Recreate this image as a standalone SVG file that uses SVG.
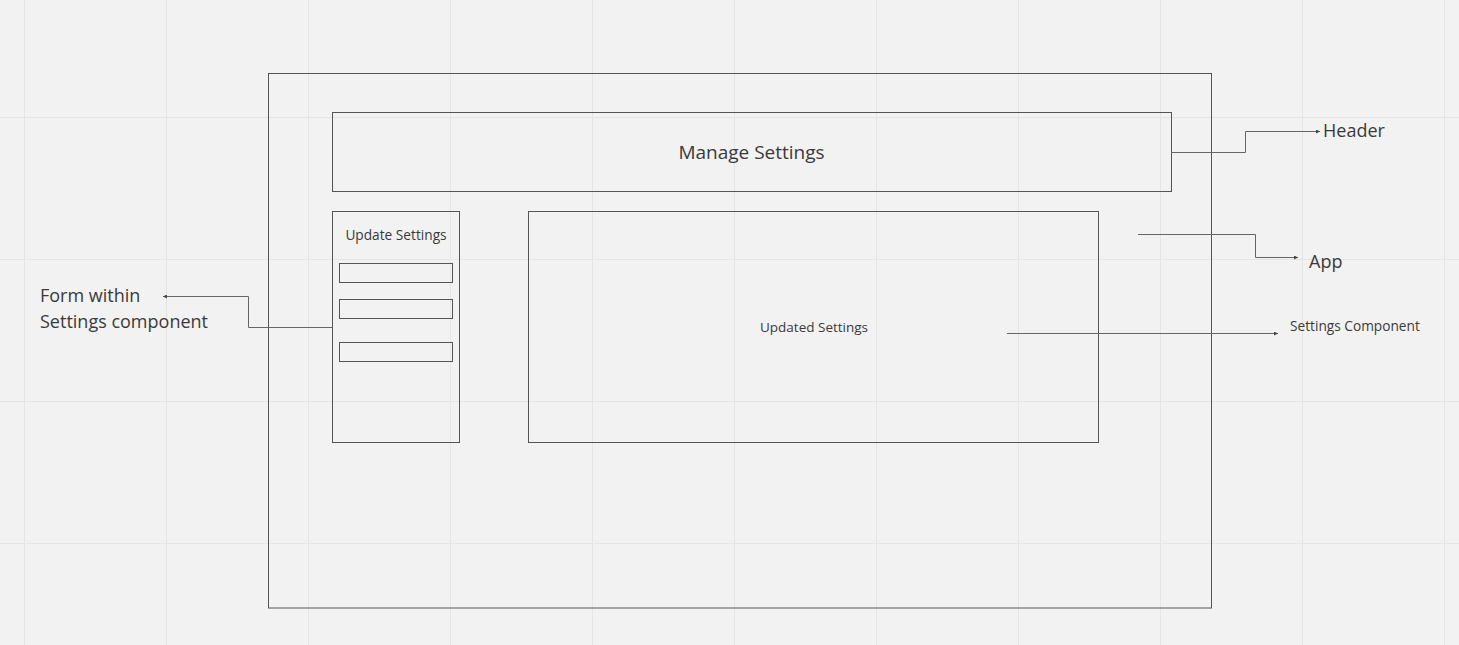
<svg xmlns="http://www.w3.org/2000/svg" width="1459" height="645" viewBox="0 0 1459 645">
<style>
.grid{stroke:#e5e5e5;stroke-width:1}
.box{fill:none;stroke:#555;stroke-width:1}
.conn{fill:none;stroke:#666;stroke-width:1}
text{font-family:"Open Sans","Noto Sans","Liberation Sans",sans-serif;fill:#3a3a3a}
</style>
<defs>
<marker id="ah" viewBox="0 0 6 6" refX="6" refY="3" markerWidth="4" markerHeight="4" orient="auto" markerUnits="userSpaceOnUse"><path d="M0,0 L6,3 L0,6 Z" fill="#444"/></marker>
</defs>
<rect width="1459" height="645" fill="#f2f2f2"/>
<g id="grid">
<path class="grid" d="M24.5,0V645M166.5,0V645M308.5,0V645M450.5,0V645M592.5,0V645M734.5,0V645M876.5,0V645M1018.5,0V645M1160.5,0V645M1302.5,0V645M1444.5,0V645M0,117.5H1459M0,259.5H1459M0,401.5H1459M0,543.5H1459"/>
</g>
<g id="app"><rect class="box" x="268.5" y="73.5" width="943" height="534.5"/></g>
<g id="header"><rect class="box" x="332.5" y="112.5" width="839" height="79"/><text x="751.5" y="159" font-size="19" text-anchor="middle">Manage Settings</text></g>
<g id="update-settings"><rect class="box" x="332.5" y="211.5" width="127" height="231"/><text x="396" y="240" font-size="13.7" text-anchor="middle">Update Settings</text>
<rect class="box" x="339.5" y="263.5" width="113" height="19"/><rect class="box" x="339.5" y="299.5" width="113" height="19"/><rect class="box" x="339.5" y="342.5" width="113" height="19"/></g>
<g id="updated-settings"><rect class="box" x="528.5" y="211.5" width="570" height="231"/><text x="814" y="332" font-size="13.5" text-anchor="middle">Updated Settings</text></g>
<g id="label-header"><text x="1323" y="137" font-size="18">Header</text></g>
<g id="label-app"><text x="1309" y="268" font-size="18">App</text></g>
<g id="label-settings"><text x="1290" y="331" font-size="13.7">Settings Component</text></g>
<g id="label-form"><text x="40" y="302" font-size="18">Form within</text><text x="40" y="328" font-size="18">Settings component</text></g>
<g id="connectors">
<path class="conn" d="M1171,152.5H1245.5V131.5H1320" marker-end="url(#ah)"/>
<path class="conn" d="M1138,234.5H1255.5V257.5H1298" marker-end="url(#ah)"/>
<path class="conn" d="M1007,333.5H1278" marker-end="url(#ah)"/>
<path class="conn" d="M332,327.5H248.5V296.5H163" marker-end="url(#ah)"/>
</g>
</svg>
